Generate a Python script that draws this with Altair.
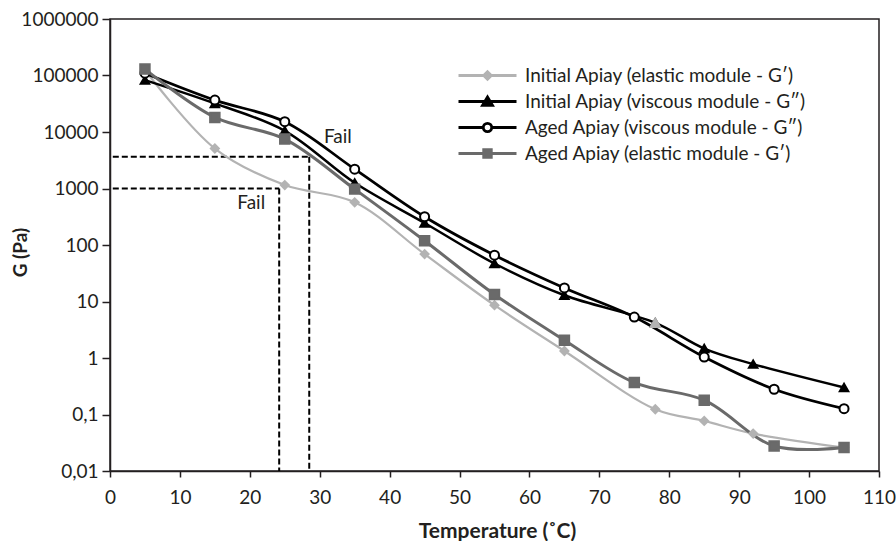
import altair as alt
import pandas as pd

# Test temperatures (°C)
temp_initial = [5, 15, 25, 35, 45, 55, 65, 78, 85, 92, 105]
temp_aged = [5, 15, 25, 35, 45, 55, 65, 75, 85, 95, 105]

# Dynamic moduli (Pa)
g_initial_elastic = [125000, 5100, 1150, 570, 69, 8.6, 1.33, 0.124, 0.077, 0.046, 0.026]
g_initial_viscous = [83000, 32000, 10500, 1260, 245, 47, 12.9, 4.2, 1.47, 0.78, 0.30]
g_aged_viscous = [110000, 36700, 15200, 2200, 316, 66, 17.4, 5.3, 1.04, 0.28, 0.127]
g_aged_elastic = [130000, 18100, 7500, 975, 119, 13.3, 2.07, 0.367, 0.179, 0.0277, 0.026]

series_names = [
    "Initial Apiay (elastic module - G′)",
    "Initial Apiay (viscous module - G″)",
    "Aged Apiay (viscous module - G″)",
    "Aged Apiay (elastic module - G′)",
]

# Failure points marked with dashed guides
fail_temp = [24.2, 28.5]
fail_g = [1000, 3640]
fail_start_temp = [0.4, 0.4]
fail_floor_g = [0.01, 0.01]
fail_label_temp = [18.2, 30.6]
fail_label_g = [543, 8230]
fail_label_text = ["Fail", "Fail"]

x_ticks = list(range(0, 111, 10))
y_ticks = [0.01, 0.1, 1, 10, 100, 1000, 10000, 100000, 1000000]

LIGHT = "#b3b3b3"
DARK = "#6a6a6a"
BLACK = "#000000"
TEXT = "#231f20"
FONT = "Lato"

rows = []
for name, temps, values in [
    (series_names[0], temp_initial, g_initial_elastic),
    (series_names[1], temp_initial, g_initial_viscous),
    (series_names[2], temp_aged, g_aged_viscous),
    (series_names[3], temp_aged, g_aged_elastic),
]:
    for i, (t, g) in enumerate(zip(temps, values)):
        rows.append({"series": name, "T": t, "G": g, "i": i})
df = pd.DataFrame(rows)

fail_df = pd.DataFrame({
    "T0": fail_start_temp, "T": fail_temp, "G": fail_g, "G0": fail_floor_g,
})
fail_text_df = pd.DataFrame({
    "T": fail_label_temp, "G": fail_label_g, "text": fail_label_text,
})

x_scale = alt.Scale(domain=[0, 110], nice=False, zero=False)
y_scale = alt.Scale(type="log", domain=[0.01, 1000000], nice=False)

stroke_scale = alt.Scale(domain=series_names, range=[LIGHT, BLACK, BLACK, DARK])
fill_scale = alt.Scale(domain=series_names, range=[LIGHT, BLACK, "#ffffff", DARK])
shape_scale = alt.Scale(domain=series_names,
                        range=["diamond", "triangle-up", "circle", "square"])
size_scale = alt.Scale(domain=series_names, range=[64, 90, 100, 81])
width_scale = alt.Scale(domain=series_names, range=[2.2, 3, 3, 2.2])

# Legend glyphs: a line segment with the series marker in the middle
# (unit = half the legend symbol size)
legend_paths = [
    "M-2.9,0H2.9M0,-0.38L0.38,0L0,0.38L-0.38,0Z",
    "M-2.9,0H2.9M0,-0.46L0.5,0.38L-0.5,0.38Z",
    "M-2.9,0H-0.42M0.42,0H2.9M0.42,0C0.42,0.232,0.232,0.42,0,0.42"
    "C-0.232,0.42,-0.42,0.232,-0.42,0C-0.42,-0.232,-0.232,-0.42,0,-0.42"
    "C0.232,-0.42,0.42,-0.232,0.42,0Z",
    "M-2.9,0H2.9M-0.38,-0.38H0.38V0.38H-0.38Z",
]
legend_shape_scale = alt.Scale(domain=series_names, range=legend_paths)

legend = alt.Legend(
    title=None,
    orient="none",
    legendX=366,
    legendY=45,
    padding=0,
    symbolSize=400,
    symbolStrokeWidth=2.8,
    symbolOpacity=1,
    labelFont=FONT,
    labelFontSize=19,
    labelColor=TEXT,
    labelOffset=26,
    labelLimit=0,
    rowPadding=4,
)

x_enc = alt.X(
    "T:Q", scale=x_scale,
    axis=alt.Axis(
        values=x_ticks, title="Temperature (˚C)", grid=False,
        tickSize=6, labelPadding=11, labelFontSize=19, labelFont=FONT,
        labelColor=TEXT, titleFont=FONT, titleFontSize=21, titleFontWeight="bold",
        titleColor=TEXT, titleX=387, titleY=66, titleBaseline="alphabetic",
        titleAlign="center", labelFlush=False,
    ),
)
y_enc = alt.Y(
    "G:Q", scale=y_scale,
    axis=alt.Axis(
        values=y_ticks, title="G (Pa)", grid=False,
        labelExpr="replace(format(datum.value, ''), '.', ',')",
        tickSize=8, labelPadding=4, labelFontSize=19, labelFont=FONT,
        labelColor=TEXT, titleFont=FONT, titleFontSize=19, titleFontWeight="bold",
        titleColor=TEXT, titleAngle=270, titleX=-90, titleY=233,
        titleAlign="center", titleBaseline="middle", labelFlush=False,
    ),
)

base = alt.Chart(df)

lines = base.mark_line(interpolate="catmull-rom").encode(
    x=x_enc, y=y_enc,
    stroke=alt.Stroke("series:N", scale=stroke_scale, legend=None),
    strokeWidth=alt.StrokeWidth("series:N", scale=width_scale, legend=None),
    detail="series:N",
    order="i:Q",
)

points = base.mark_point(filled=True, strokeWidth=2, opacity=1).encode(
    x="T:Q", y="G:Q",
    shape=alt.Shape("series:N", scale=shape_scale, legend=None),
    fill=alt.Fill("series:N", scale=fill_scale, legend=None),
    stroke=alt.Stroke("series:N", scale=stroke_scale, legend=None),
    size=alt.Size("series:N", scale=size_scale, legend=None),
)

# invisible marks that only carry the legend (line + marker glyphs)
legend_layer = base.mark_point(filled=True, opacity=0).encode(
    x="T:Q", y="G:Q",
    shape=alt.Shape("series:N", scale=legend_shape_scale, legend=legend),
    fill=alt.Fill("series:N", scale=fill_scale, legend=legend),
    stroke=alt.Stroke("series:N", scale=stroke_scale, legend=legend),
)

# one reading of the initial viscous series is marked in light grey
odd_point = base.transform_filter(
    (alt.datum.series == series_names[1]) & (alt.datum.T == 78)
).mark_point(
    filled=True, shape="triangle-up", size=90, color=LIGHT,
    stroke=LIGHT, strokeWidth=2, opacity=1,
).encode(x="T:Q", y="G:Q")

fail_h = alt.Chart(fail_df).mark_rule(
    color=BLACK, strokeWidth=2, strokeDash=[6, 3]
).encode(x="T0:Q", x2="T:Q", y="G:Q")

fail_v = alt.Chart(fail_df).mark_rule(
    color=BLACK, strokeWidth=2, strokeDash=[6, 3]
).encode(x="T:Q", y="G:Q", y2="G0:Q")

fail_text = alt.Chart(fail_text_df).mark_text(
    align="left", baseline="middle", font=FONT, fontSize=19, color=TEXT
).encode(x="T:Q", y="G:Q", text="text:N")

chart = alt.layer(
    fail_h, fail_v, fail_text, lines, points, odd_point, legend_layer
).resolve_scale(
    shape="independent", fill="independent", stroke="independent"
).properties(
    width=769,
    height=452,
    padding={"left": 110, "top": 19, "right": 17, "bottom": 70},
    autosize=alt.AutoSizeParams(type="none"),
    background="white",
).configure_view(
    stroke="#231f20", strokeWidth=1.5
).configure_axis(
    domainColor="#231f20", domainWidth=1.5, tickColor="#231f20", tickWidth=1.5,
)

chart.save("out.html", embed_options={"renderer": "svg", "actions": False})
